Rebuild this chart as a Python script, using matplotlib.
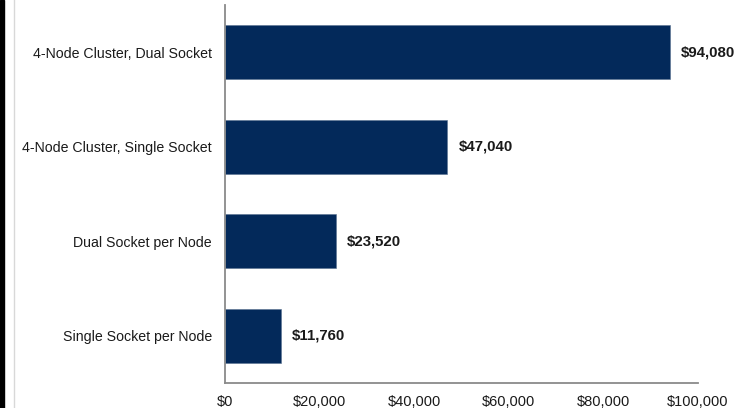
import matplotlib
matplotlib.use("Agg")
import matplotlib.pyplot as plt
from matplotlib.patches import Rectangle
from matplotlib.lines import Line2D
from matplotlib.ticker import FuncFormatter

### chart data
categories = ["Single Socket per Node", "Dual Socket per Node",
              "4-Node Cluster, Single Socket", "4-Node Cluster, Dual Socket"]
costs = [11760, 23520, 47040, 94080]
xticks = [0, 20000, 40000, 60000, 80000, 100000]

plt.rcParams['font.family'] = ['Liberation Sans', 'DejaVu Sans']

fig = plt.figure(figsize=(7.41, 4.08), dpi=100)
ax = fig.add_axes([225/741, 1 - 383/408, 473/741, 378/408])

bar_color = '#03295a'
ax.barh(categories, costs, height=0.57, color=bar_color, edgecolor='#5a7190', linewidth=0.4)

# value labels to the right of each bar
for i, v in enumerate(costs):
    ax.text(v + 2300, i, "${:,}".format(v), va='center', ha='left',
            fontsize=10.8, fontweight='bold', color='#1a1a1a')

ax.set_xlim(0, 100000)
ax.set_ylim(-0.5, 3.5)
ax.set_xticks(xticks)
ax.xaxis.set_major_formatter(FuncFormatter(lambda x, p: "${:,.0f}".format(x)))
ax.tick_params(axis='x', length=0, labelsize=10.5, colors='#1a1a1a', pad=8.5)
ax.tick_params(axis='y', length=0, labelsize=10.2, colors='#1a1a1a', pad=9.5)

for s in ['top', 'right']:
    ax.spines[s].set_visible(False)
for s in ['left', 'bottom']:
    ax.spines[s].set_color('#8a8a8a')
    ax.spines[s].set_linewidth(1.3)

# frame bits on the left edge of the picture
fig.add_artist(Rectangle((0, 0), 4/741, 1, transform=fig.transFigure, color='black'))
fig.add_artist(Line2D([14/741, 14/741], [0, 1], transform=fig.transFigure,
                      color='#d8d8d8', linewidth=1))

fig.savefig("out.png", dpi=100)
